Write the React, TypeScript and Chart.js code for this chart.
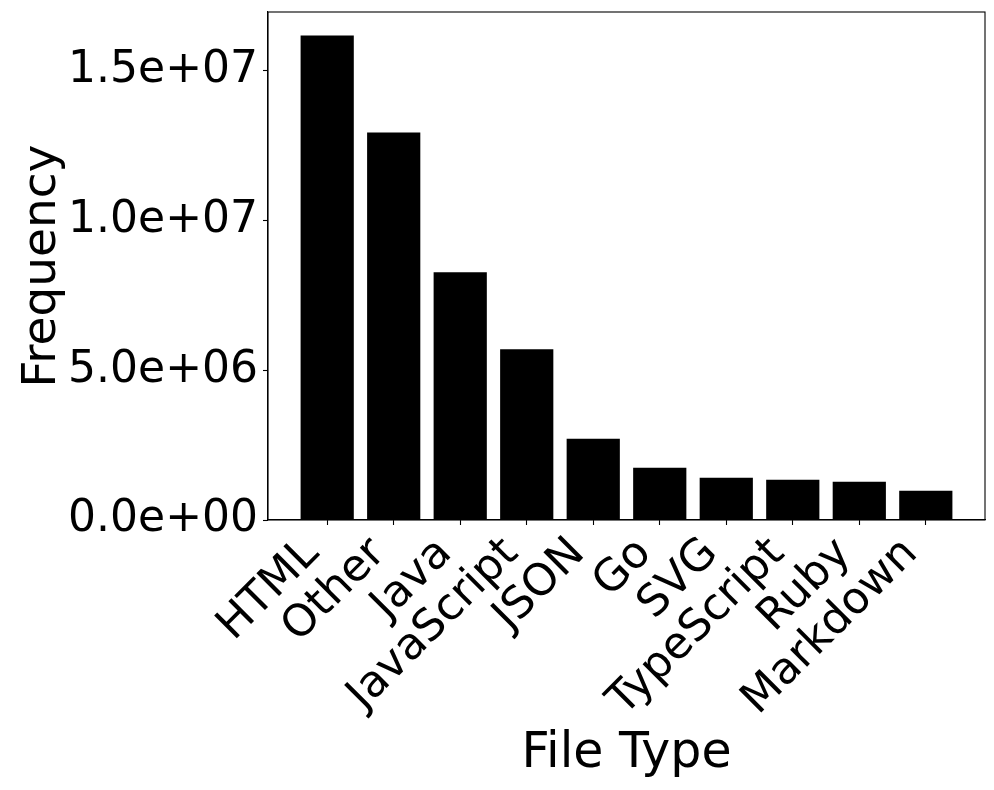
import React, { useEffect, useRef } from "react";
import { Chart, registerables } from "chart.js";

Chart.register(...registerables);

const categories = ["HTML", "Other", "Java", "JavaScript", "JSON", "Go", "SVG", "TypeScript", "Ruby", "Markdown"];
const frequencies = [16170000, 12930000, 8270000, 5700000, 2710000, 1740000, 1410000, 1340000, 1280000, 980000];
const yTicks = [0, 5000000, 10000000, 15000000];
const xLabel = "File Type";
const yLabel = "Frequency";

const FONT = "'DejaVu Sans', sans-serif";

function fmtExp(v: number): string {
  const s = v.toExponential(1);
  const [m, e] = s.split("e");
  const sign = e[0] === "-" ? "-" : "+";
  const digits = e.replace(/[+-]/, "").padStart(2, "0");
  return `${m}e${sign}${digits}`;
}

const boxPlugin = {
  id: "boxPlugin",
  afterDatasetsDraw(chart: any) {
    const { ctx, chartArea } = chart;
    ctx.save();
    ctx.strokeStyle = "#000";
    ctx.lineWidth = 1.1;
    ctx.strokeRect(chartArea.left, chartArea.top, chartArea.right - chartArea.left, chartArea.bottom - chartArea.top);
    ctx.restore();
  },
};

function zeroPad(scale: any) {
  scale.paddingLeft = 0;
  scale.paddingRight = 0;
  scale.paddingTop = 0;
  scale.paddingBottom = 0;
}

export default function App() {
  const ref = useRef<HTMLCanvasElement | null>(null);

  useEffect(() => {
    document.body.style.margin = "0";
    const canvas = ref.current;
    if (!canvas) return;
    const chart = new Chart(canvas, {
      type: "bar",
      data: {
        datasets: [
          {
            data: categories.map((_, i) => ({ x: i, y: frequencies[i] })),
            backgroundColor: "#000",
            borderWidth: 0,
            barPercentage: 0.8,
            categoryPercentage: 1,
          },
        ],
      },
      options: {
        animation: false,
        responsive: false,
        maintainAspectRatio: false,
        layout: { padding: { left: 0, right: 9, top: 12, bottom: 0 } },
        plugins: { legend: { display: false }, tooltip: { enabled: false } },
        scales: {
          x: {
            type: "linear",
            offset: false,
            min: -0.89,
            max: 9.89,
            afterBuildTicks: (scale: any) => {
              scale.ticks = categories.map((_, i) => ({ value: i }));
            },
            afterFit: (scale: any) => {
              scale.height = 270;
              zeroPad(scale);
            },
            grid: { display: true, offset: false, drawOnChartArea: false, drawTicks: true, tickLength: 5, color: "#000", tickWidth: 1.1 },
            border: { display: true, color: "#000", width: 1.1 },
            ticks: {
              autoSkip: false,
              minRotation: 45,
              maxRotation: 45,
              padding: 3,
              labelOffset: -15,
              color: "#000",
              font: { family: FONT, size: 44 },
              callback: (v: any) => categories[v as number] ?? "",
            },
            title: {
              display: true,
              text: xLabel,
              color: "#000",
              font: { family: FONT, size: 49 },
              padding: { top: 0, bottom: 6 },
            },
          },
          y: {
            min: 0,
            max: 16950000,
            afterBuildTicks: (scale: any) => {
              scale.ticks = yTicks.map((v) => ({ value: v }));
            },
            afterFit: (scale: any) => {
              scale.width = 268;
              zeroPad(scale);
            },
            grid: { display: true, drawOnChartArea: false, drawTicks: true, tickLength: 5, color: "#000", tickWidth: 1.1 },
            border: { display: true, color: "#000", width: 1.1 },
            ticks: {
              padding: 5,
              color: "#000",
              font: { family: FONT, size: 44 },
              callback: (v: any) => fmtExp(v as number),
            },
            title: {
              display: true,
              text: yLabel,
              color: "#000",
              font: { family: FONT, size: 47 },
              padding: { top: 15, bottom: 0 },
            },
          },
        },
      },
      plugins: [boxPlugin],
    });
    return () => chart.destroy();
  }, []);

  return (
    <div style={{ width: 994, height: 790, background: "#fff" }}>
      <canvas ref={ref} width={994} height={790} style={{ display: "block", width: 994, height: 790 }} />
    </div>
  );
}
